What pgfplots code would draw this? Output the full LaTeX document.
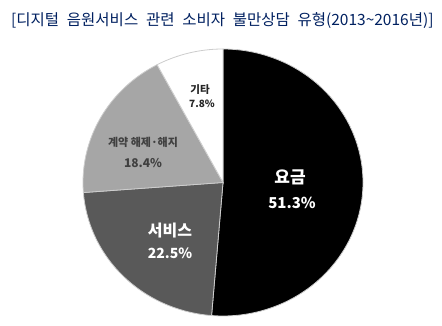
\documentclass[border=0pt]{standalone}
\usepackage{fontspec}
\setmainfont{Noto Sans CJK KR}
\usepackage{pgfplots}
\pgfplotsset{compat=1.18}
\definecolor{titleblue}{RGB}{0,32,96}
\definecolor{sA}{RGB}{0,0,0}
\definecolor{sB}{RGB}{89,89,89}
\definecolor{sC}{RGB}{166,166,166}
\definecolor{sD}{RGB}{255,255,255}
\definecolor{edge}{RGB}{205,205,205}
% shares (%)
\def\vA{51.3}\def\vB{22.5}\def\vC{18.4}\def\vD{7.8}
\pgfmathsetmacro{\aA}{90}
\pgfmathsetmacro{\aB}{\aA-3.6*\vA}
\pgfmathsetmacro{\aC}{\aB-3.6*\vB}
\pgfmathsetmacro{\aD}{\aC-3.6*\vC}
\pgfmathsetmacro{\aE}{\aD-3.6*\vD}
\def\cx{223}\def\cy{143.5}\def\rx{140}\def\ry{133.5}
\begin{document}
\begin{tikzpicture}
\begin{axis}[
  width=442bp, height=326bp, scale only axis,
  xmin=0, xmax=442, ymin=0, ymax=326,
  hide axis, clip=false,
]
\path[draw=none] (axis cs:0,0) rectangle (axis cs:442,326);
\addplot[fill=sA, draw=edge, line width=0.8bp, domain=\aB:\aA, samples=120, variable=\t]
  ({\cx+\rx*cos(\t)}, {\cy+\ry*sin(\t)}) -- (axis cs:\cx,\cy) -- cycle;
\addplot[fill=sB, draw=edge, line width=0.8bp, domain=\aC:\aB, samples=80, variable=\t]
  ({\cx+\rx*cos(\t)}, {\cy+\ry*sin(\t)}) -- (axis cs:\cx,\cy) -- cycle;
\addplot[fill=sC, draw=edge, line width=0.8bp, domain=\aD:\aC, samples=80, variable=\t]
  ({\cx+\rx*cos(\t)}, {\cy+\ry*sin(\t)}) -- (axis cs:\cx,\cy) -- cycle;
\addplot[fill=sD, draw=edge, line width=0.8bp, domain=\aE:\aD, samples=40, variable=\t]
  ({\cx+\rx*cos(\t)}, {\cy+\ry*sin(\t)}) -- (axis cs:\cx,\cy) -- cycle;

\node[anchor=west, text=titleblue, font=\fontsize{15.5bp}{18bp}\selectfont, inner sep=0pt] at (axis cs:11,305) {\spaceskip=0.5em [디지털 음원서비스 관련 소비자 불만상담 유형(2013\textasciitilde 2016년)]};

\node[text=white, font=\fontsize{17bp}{20bp}\selectfont\bfseries] at (axis cs:290,149) {요금};
\node[text=white, font=\fontsize{15bp}{18bp}\selectfont\bfseries] at (axis cs:292,123) {51.3\%};
\node[text=white, font=\fontsize{16bp}{19bp}\selectfont\bfseries] at (axis cs:170,95) {서비스};
\node[text=white, font=\fontsize{14bp}{17bp}\selectfont\bfseries] at (axis cs:170,73) {22.5\%};
\node[text={rgb,255:red,64;green,64;blue,64}, font=\fontsize{11bp}{14bp}\selectfont\bfseries] at (axis cs:143,184) {계약 해제·해지};
\node[text={rgb,255:red,64;green,64;blue,64}, font=\fontsize{12bp}{14bp}\selectfont\bfseries] at (axis cs:143,163) {18.4\%};
\node[text={rgb,255:red,38;green,38;blue,38}, font=\fontsize{10.5bp}{12bp}\selectfont\bfseries] at (axis cs:200,236) {기타};
\node[text={rgb,255:red,38;green,38;blue,38}, font=\fontsize{10bp}{12bp}\selectfont\bfseries] at (axis cs:202,222) {7.8\%};
\end{axis}
\end{tikzpicture}
\end{document}
